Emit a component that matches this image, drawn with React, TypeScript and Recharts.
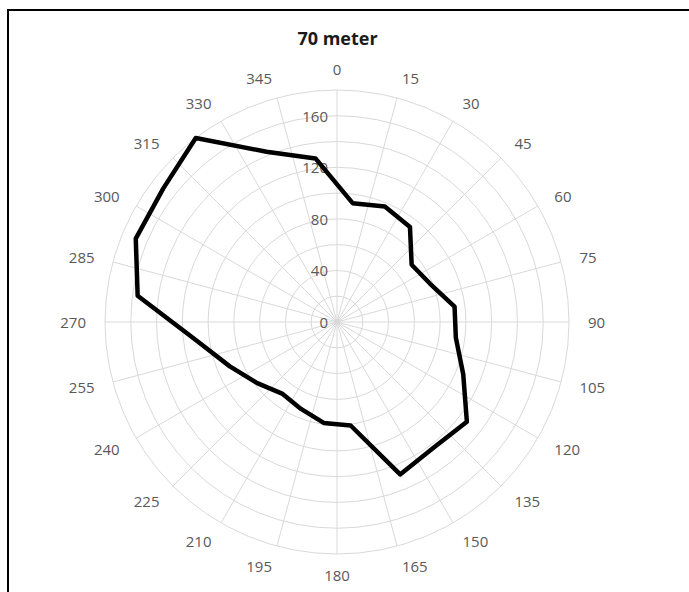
import { PolarAngleAxis, PolarGrid, PolarRadiusAxis, Radar, RadarChart } from "recharts";

// compass labels around the rim (degrees)
const directionLabels = [
  "0", "15", "30", "45", "60", "75", "90", "105", "120", "135", "150", "165",
  "180", "195", "210", "225", "240", "255", "270", "285", "300", "315", "330", "345",
];

// measured bins sit halfway between the spokes
const binDirections = [
  7.5, 22.5, 37.5, 52.5, 67.5, 82.5, 97.5, 112.5, 127.5, 142.5, 157.5, 172.5,
  187.5, 202.5, 217.5, 232.5, 247.5, 262.5, 277.5, 292.5, 307.5, 322.5, 337.5, 352.5,
];

const speeds = [
  93, 97, 93, 73, 78, 92, 93, 106, 127, 123, 128, 81,
  79, 73, 70, 78, 90, 110, 156, 169, 170, 180, 143, 128,
];

const radialTicks = [0, 20, 40, 60, 80, 100, 120, 140, 160, 180];
const radialLabels = [0, 40, 80, 120, 160];

const W = 689;
const H = 592;
const CX = 337;
const CY = 322;
const OUTER = 232;
const LABEL_R = 251;

const labelFont = {
  fontFamily: "'Open Sans', sans-serif",
  fontSize: 15,
  fill: "#595959",
};

// spokes only, no values (the empty series just registers the axes)
const gridData = directionLabels.map((d) => ({ direction: d, empty: null }));
const windData = binDirections.map((d, i) => ({ direction: d, speed: speeds[i] }));

function AngleTick(props: any) {
  const label = String(props.payload?.value);
  const a = (Number(label) * Math.PI) / 180;
  const s = Math.sin(a);
  const anchor = s > 0.1 ? "start" : s < -0.1 ? "end" : "middle";
  return (
    <text
      x={CX + LABEL_R * s}
      y={CY - LABEL_R * Math.cos(a) - 2 * Math.cos(a)}
      textAnchor={anchor}
      dominantBaseline="central"
      {...labelFont}
    >
      {label}
    </text>
  );
}

function RadiusTick(props: any) {
  const value = Number(props.payload?.value);
  if (!radialLabels.includes(value)) {
    return <g />;
  }
  return (
    <text
      x={props.x - 9}
      y={props.y}
      textAnchor="end"
      dominantBaseline="central"
      {...labelFont}
    >
      {value}
    </text>
  );
}

export default function App() {
  return (
    <div style={{ position: "absolute", left: 0, top: 0, width: W, height: H, background: "#fff" }}>
      <div
        style={{
          position: "absolute",
          left: 7,
          top: 9,
          width: 700,
          height: 600,
          borderTop: "2px solid #000",
          borderLeft: "2px solid #000",
        }}
      />
      <div
        style={{
          position: "absolute",
          left: 0,
          width: 675,
          top: 26,
          textAlign: "center",
          fontFamily: "'Open Sans', sans-serif",
          fontWeight: 700,
          fontSize: 18,
          lineHeight: "24px",
          color: "#1a1a1a",
        }}
      >
        70 meter
      </div>

      {/* grid, rim labels and radius labels */}
      <div style={{ position: "absolute", left: 0, top: 0 }}>
        <RadarChart
          width={W}
          height={H}
          data={gridData}
          cx={CX}
          cy={CY}
          outerRadius={OUTER}
          margin={{ top: 0, right: 0, bottom: 0, left: 0 }}
        >
          <PolarGrid gridType="circle" stroke="#d9d9d9" strokeWidth={1} />
          <PolarAngleAxis
            dataKey="direction"
            axisLine={false}
            tickLine={false}
            tick={(p: any) => <AngleTick {...p} />}
          />
          <PolarRadiusAxis
            angle={90}
            type="number"
            domain={[0, 180]}
            allowDataOverflow
            ticks={radialTicks}
            axisLine={false}
            tick={(p: any) => <RadiusTick {...p} />}
          />
          <Radar
            dataKey="empty"
            stroke="none"
            fill="none"
            dot={false}
            isAnimationActive={false}
          />
        </RadarChart>
      </div>

      {/* the wind line, bins rotated half a sector */}
      <div style={{ position: "absolute", left: 0, top: 0 }}>
        <RadarChart
          width={W}
          height={H}
          data={windData}
          cx={CX}
          cy={CY}
          outerRadius={OUTER}
          startAngle={90 - binDirections[0]}
          endAngle={90 - binDirections[0] - 360}
          margin={{ top: 0, right: 0, bottom: 0, left: 0 }}
        >
          <PolarAngleAxis dataKey="direction" axisLine={false} tickLine={false} tick={false} />
          <PolarRadiusAxis
            angle={90}
            type="number"
            domain={[0, 180]}
            axisLine={false}
            tick={false}
          />
          <Radar
            dataKey="speed"
            stroke="#000"
            strokeWidth={4.5}
            strokeLinejoin="round"
            fill="none"
            fillOpacity={0}
            dot={false}
            isAnimationActive={false}
          />
        </RadarChart>
      </div>
    </div>
  );
}
